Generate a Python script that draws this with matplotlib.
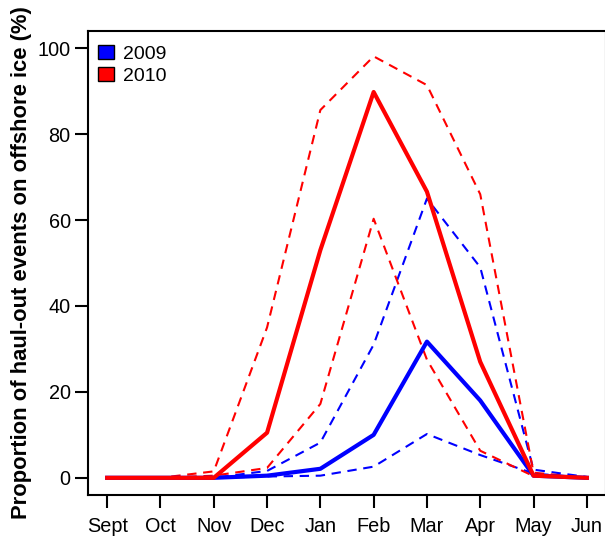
import matplotlib
matplotlib.use("Agg")
import matplotlib.pyplot as plt
from matplotlib.patches import Patch

plt.rcParams['font.family'] = ['Liberation Sans', 'DejaVu Sans']

months = ["Sept", "Oct", "Nov", "Dec", "Jan", "Feb", "Mar", "Apr", "May", "Jun"]

blue_mean = [0, 0, 0, 0.5, 2.1, 10, 31.7, 18, 0.5, 0]
blue_upper = [0, 0, 0, 1.6, 8.2, 31, 65, 49, 1.9, 0.2]
blue_lower = [0, 0, 0, 0.3, 0.5, 2.6, 10.2, 5.3, 1.0, 0]

red_mean = [0, 0, 0, 10.5, 53, 89.8, 66.6, 27, 0.5, 0]
red_upper = [0, 0, 1.5, 35, 85.6, 98.1, 91.4, 66, 1.2, 0]
red_lower = [0, 0, 0.5, 2.3, 17.2, 60.3, 27.5, 6.3, 0.4, 0]

yticks = [0, 20, 40, 60, 80, 100]

fig = plt.figure(figsize=(6.05, 5.39), dpi=100)
ax = fig.add_axes([88/605, 44/539, 518/605, 464/539])

x = list(range(1, len(months) + 1))
dash = (4.5, 3.2)
ax.plot(x, blue_upper, color='#0000FF', lw=1.5, dashes=dash, zorder=2)
ax.plot(x, blue_lower, color='#0000FF', lw=1.5, dashes=dash, zorder=2)
ax.plot(x, red_upper, color='#FF0000', lw=1.5, dashes=dash, zorder=3)
ax.plot(x, red_lower, color='#FF0000', lw=1.5, dashes=dash, zorder=3)
ax.plot(x, blue_mean, color='#0000FF', lw=3.0, zorder=4)
ax.plot(x, red_mean, color='#FF0000', lw=3.0, zorder=5)

ax.set_xlim(0.64, 10.36)
ax.set_ylim(-4, 104)
ax.set_xticks(x)
ax.set_xticklabels(months)
ax.set_yticks(yticks)
ax.tick_params(axis='both', direction='out', length=9.5, width=1.5, labelsize=14.3, pad=3, colors='black')
ax.tick_params(axis='x', pad=6.5)
for s in ax.spines.values():
    s.set_linewidth(1.5)

ax.set_ylabel("Proportion of haul-out events on offshore ice (%)", fontsize=15.8, fontweight='bold', labelpad=4)

handles = [Patch(facecolor='#0000FF', edgecolor='black', lw=1.0, label='2009'),
           Patch(facecolor='#FF0000', edgecolor='black', lw=1.0, label='2010')]
leg = ax.legend(handles=handles, loc='upper left', frameon=False, fontsize=14,
                handlelength=0.8, handleheight=0.75, handletextpad=0.5, labelspacing=0.2,
                bbox_to_anchor=(0.012, 0.978), borderaxespad=0.0, borderpad=0.2)

fig.savefig("out.png", dpi=100)
